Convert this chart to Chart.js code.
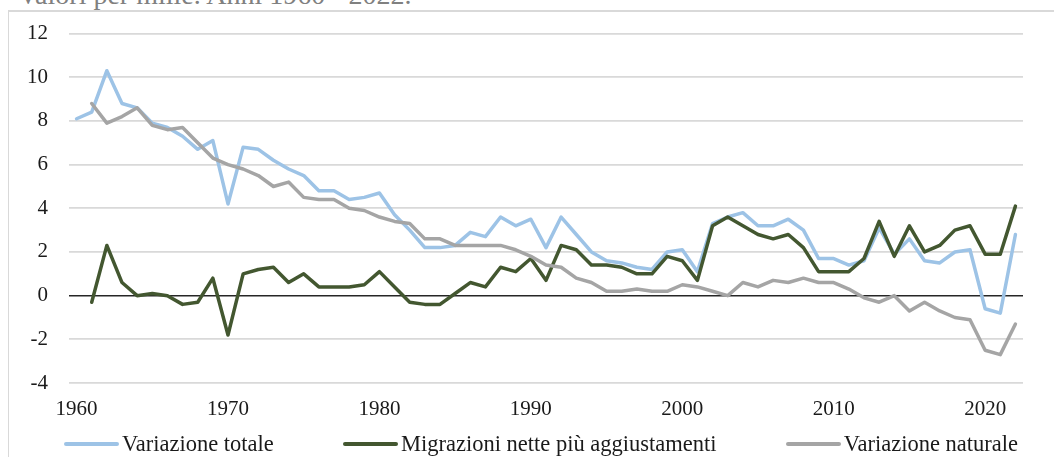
<!DOCTYPE html>
<html>
<head>
<meta charset="utf-8">
<script src="https://cdn.jsdelivr.net/npm/chart.js@4.4.1/dist/chart.umd.min.js"></script>
<style>
  html, body { margin: 0; padding: 0; background: #fff; overflow: hidden; width: 1054px; height: 457px; }
  #frame { position: absolute; left: 8px; top: 10px; width: 1100px; height: 500px; border-left: 1.5px solid #d9d9d9; border-top: 2px solid #d9d9d9; }
  #title { position: absolute; left: 18px; top: -19px; font: 28px 'Liberation Serif', serif; line-height: 28px; color: #808080; white-space: nowrap; }
  #chart { position: absolute; left: 0; top: 0; }
  #legend { position: absolute; left: 64px; width: 954px; top: 430px; height: 28px; display: flex; justify-content: space-between; align-items: center; font: 22.5px 'Liberation Serif', serif; color: #1a1a1a; }
  .item { display: flex; align-items: center; white-space: nowrap; }
  .swatch { width: 55px; height: 4px; border-radius: 2px; margin-right: 3px; }
</style>
</head>
<body>
<div id="frame"></div>
<div id="title">Valori per mille. Anni 1960 - 2022.</div>
<canvas id="chart" width="1100" height="470"></canvas>
<div id="legend"></div>
<script>
// anni
const years = ['1960','1961','1962','1963','1964','1965','1966','1967','1968','1969',
  '1970','1971','1972','1973','1974','1975','1976','1977','1978','1979',
  '1980','1981','1982','1983','1984','1985','1986','1987','1988','1989',
  '1990','1991','1992','1993','1994','1995','1996','1997','1998','1999',
  '2000','2001','2002','2003','2004','2005','2006','2007','2008','2009',
  '2010','2011','2012','2013','2014','2015','2016','2017','2018','2019',
  '2020','2021','2022'];

const variazioneTotale = [8.1, 8.4, 10.3, 8.8, 8.6, 7.9, 7.7, 7.3, 6.7, 7.1,
  4.2, 6.8, 6.7, 6.2, 5.8, 5.5, 4.8, 4.8, 4.4, 4.5,
  4.7, 3.7, 3.0, 2.2, 2.2, 2.3, 2.9, 2.7, 3.6, 3.2,
  3.5, 2.2, 3.6, 2.8, 2.0, 1.6, 1.5, 1.3, 1.2, 2.0,
  2.1, 1.1, 3.3, 3.6, 3.8, 3.2, 3.2, 3.5, 3.0, 1.7,
  1.7, 1.4, 1.6, 3.1, 1.9, 2.6, 1.6, 1.5, 2.0, 2.1,
  -0.6, -0.8, 2.8];

const migrazioni = [null, -0.3, 2.3, 0.6, 0.0, 0.1, 0.0, -0.4, -0.3, 0.8,
  -1.8, 1.0, 1.2, 1.3, 0.6, 1.0, 0.4, 0.4, 0.4, 0.5,
  1.1, 0.4, -0.3, -0.4, -0.4, 0.1, 0.6, 0.4, 1.3, 1.1,
  1.7, 0.7, 2.3, 2.1, 1.4, 1.4, 1.3, 1.0, 1.0, 1.8,
  1.6, 0.7, 3.2, 3.6, 3.2, 2.8, 2.6, 2.8, 2.2, 1.1,
  1.1, 1.1, 1.7, 3.4, 1.8, 3.2, 2.0, 2.3, 3.0, 3.2,
  1.9, 1.9, 4.1];

const variazioneNaturale = [null, 8.8, 7.9, 8.2, 8.6, 7.8, 7.6, 7.7, 7.0, 6.3,
  6.0, 5.8, 5.5, 5.0, 5.2, 4.5, 4.4, 4.4, 4.0, 3.9,
  3.6, 3.4, 3.3, 2.6, 2.6, 2.3, 2.3, 2.3, 2.3, 2.1,
  1.8, 1.4, 1.3, 0.8, 0.6, 0.2, 0.2, 0.3, 0.2, 0.2,
  0.5, 0.4, 0.2, 0.0, 0.6, 0.4, 0.7, 0.6, 0.8, 0.6,
  0.6, 0.3, -0.1, -0.3, 0.0, -0.7, -0.3, -0.7, -1.0, -1.1,
  -2.5, -2.7, -1.3];

const seriesNames = ['Variazione totale', 'Migrazioni nette più aggiustamenti', 'Variazione naturale'];
const seriesColors = ['#9dc3e6', '#435730', '#a5a5a5'];

const textColor = '#1a1a1a';
Chart.defaults.font.family = "'Liberation Serif', serif";

const chart = new Chart(document.getElementById('chart'), {
  type: 'line',
  data: {
    labels: years,
    datasets: [
      { label: seriesNames[0], data: variazioneTotale, borderColor: seriesColors[0], order: 3 },
      { label: seriesNames[1], data: migrazioni, borderColor: seriesColors[1], order: 2 },
      { label: seriesNames[2], data: variazioneNaturale, borderColor: seriesColors[2], order: 1 }
    ]
  },
  options: {
    responsive: false,
    animation: false,
    devicePixelRatio: 1,
    layout: { padding: { left: 24, top: 33, right: 77, bottom: 47 } },
    elements: {
      point: { radius: 0 },
      line: { borderWidth: 3.5, tension: 0, borderJoinStyle: 'round', borderCapStyle: 'round' }
    },
    plugins: { legend: { display: false }, tooltip: { enabled: false } },
    scales: {
      x: {
        offset: true,
        grid: { display: false, drawTicks: false },
        border: { display: false },
        ticks: {
          autoSkip: false, maxRotation: 0, padding: 14, color: textColor, font: { size: 21 },
          callback: function (v) {
            const y = this.getLabelForValue(v);
            return Number(y) % 10 === 0 ? y : null;
          }
        },
        afterFit: s => { s.height = 40; }
      },
      y: {
        min: -4, max: 12,
        ticks: { stepSize: 2, padding: 21, color: textColor, font: { size: 21 } },
        grid: {
          drawTicks: false,
          color: ctx => ctx.tick.value === 0 ? '#262626' : '#d9d9d9',
          lineWidth: ctx => ctx.tick.value === 0 ? 1.5 : 1.75
        },
        border: { display: false },
        afterFit: s => { s.width = 45; }
      }
    }
  }
});

// legenda
const legend = document.getElementById('legend');
seriesNames.forEach((name, i) => {
  const item = document.createElement('div');
  item.className = 'item';
  const sw = document.createElement('span');
  sw.className = 'swatch';
  sw.style.background = seriesColors[i];
  item.appendChild(sw);
  item.appendChild(document.createTextNode(name));
  legend.appendChild(item);
});
</script>
</body>
</html>
